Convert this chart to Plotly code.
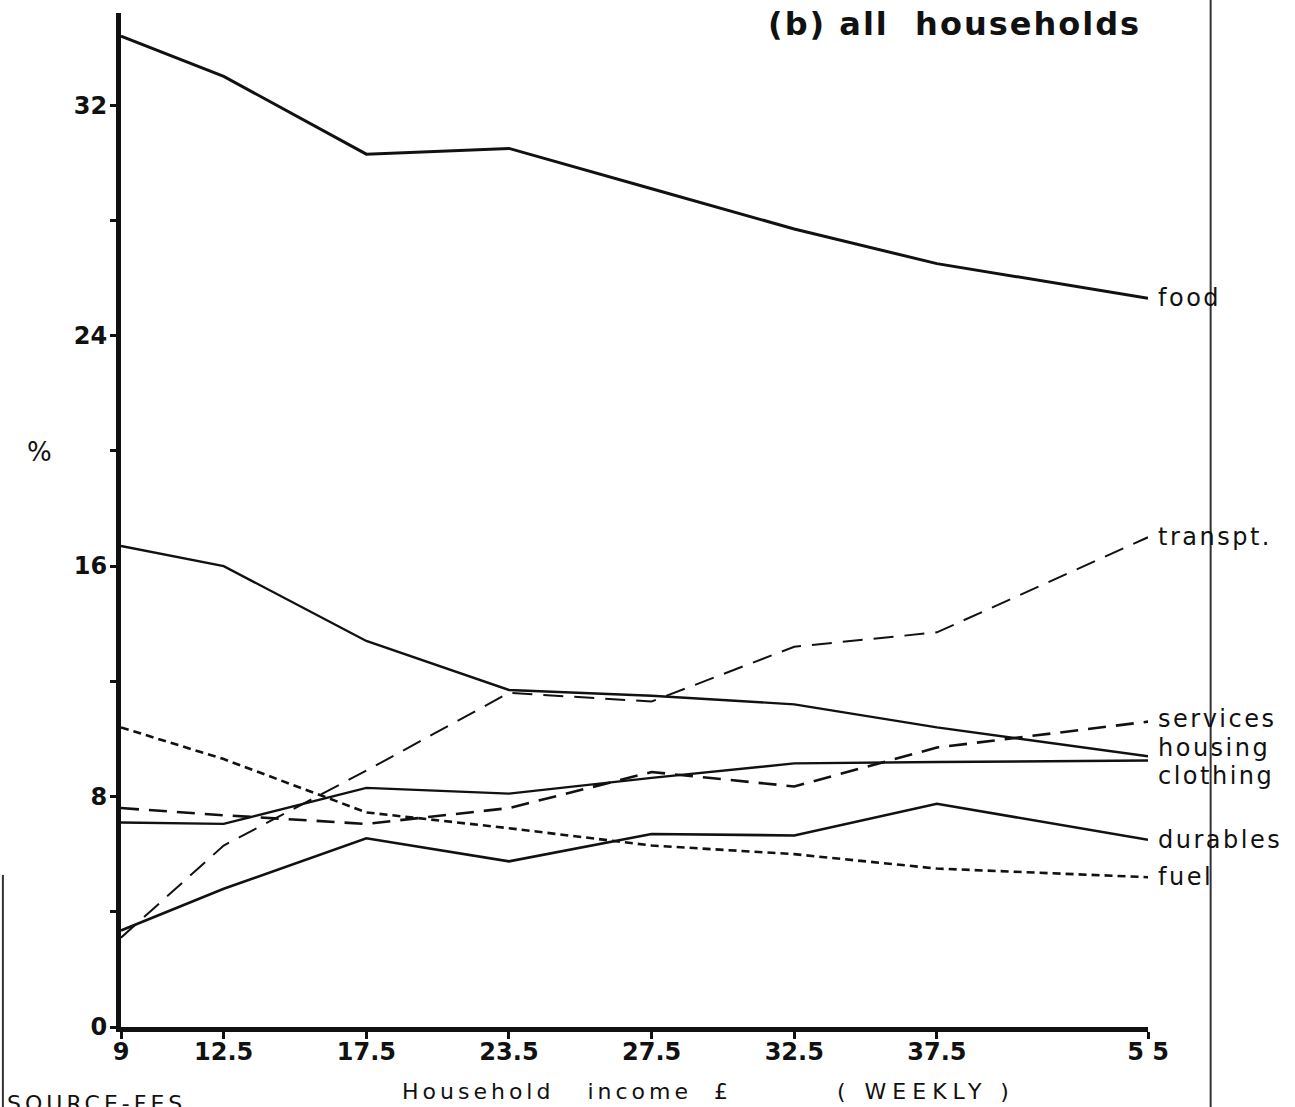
import plotly.graph_objects as go

# Income bands (weekly household income, £) and their positions along the drawn axis
income_labels = ["9", "12.5", "17.5", "23.5", "27.5", "32.5", "37.5", "5 5"]
axis_pos = [0, 0.72, 1.72, 2.72, 3.72, 4.72, 5.72, 7.2]

# Share of expenditure (%)
food      = [34.4, 33.0, 30.3, 30.5, 29.1, 27.7, 26.5, 25.3]
housing   = [16.7, 16.0, 13.4, 11.7, 11.5, 11.2, 10.4, 9.4]
clothing  = [7.1, 7.05, 8.3, 8.1, 8.65, 9.15, 9.2, 9.25]
durables  = [3.35, 4.8, 6.55, 5.75, 6.7, 6.65, 7.75, 6.5]
transport = [3.1, 6.3, 8.9, 11.6, 11.3, 13.2, 13.7, 17.0]
services  = [7.6, 7.35, 7.05, 7.6, 8.85, 8.35, 9.7, 10.6]
fuel      = [10.4, 9.3, 7.45, 6.9, 6.3, 6.0, 5.5, 5.2]

y_ticks = [0, 8, 16, 24, 32]

FONT = "DejaVu Sans"
INK = "#111111"


def spaced(txt, px):
    return f'<span style="letter-spacing:{px}px">{txt}</span>'


series = [
    ("food", food, "solid", 3.0, 0),
    ("transpt.", transport, "20px,11px", 2.0, 0),
    ("services", services, "18px,10px", 2.6, 3),
    ("housing", housing, "solid", 2.4, 8),
    ("clothing", clothing, "solid", 2.4, -15),
    ("durables", durables, "solid", 2.6, 0),
    ("fuel", fuel, "8px,5px", 2.6, 0),
]

fig = go.Figure()
for name, vals, dash, w, ysh in series:
    fig.add_trace(go.Scatter(
        x=axis_pos, y=vals, mode="lines", name=name,
        line=dict(color=INK, width=w, dash=dash),
        showlegend=False, hoverinfo="skip",
    ))
    fig.add_annotation(
        x=axis_pos[-1], y=vals[-1], xref="x", yref="y",
        text=spaced(name, 2.5), showarrow=False, xanchor="left", yanchor="middle",
        xshift=8, yshift=ysh,
        font=dict(family=FONT, size=24, color=INK),
    )

fig.update_xaxes(
    range=[0, 7.2], tickvals=axis_pos, ticktext=income_labels,
    showline=True, linecolor=INK, linewidth=5, mirror=False,
    ticks="outside", ticklen=7, tickwidth=3, tickcolor=INK,
    ticklabelstandoff=-8,
    showgrid=False, zeroline=False,
    tickfont=dict(family=FONT, size=24, color=INK, weight="bold"),
)
fig.update_yaxes(
    range=[0, 35.2], tickvals=y_ticks, ticktext=[str(v) for v in y_ticks],
    showline=True, linecolor=INK, linewidth=5,
    ticks="outside", ticklen=6, tickwidth=3, tickcolor=INK,
    ticklabelstandoff=-2,
    minor=dict(ticks="outside", dtick=4, tick0=0, ticklen=6, tickwidth=3, tickcolor=INK),
    showgrid=False, zeroline=False,
    tickfont=dict(family=FONT, size=24, color=INK, weight="bold"),
)

# Title, axis titles and source note
fig.add_annotation(xref="paper", yref="paper", x=0.628, y=0.989,
                   text=spaced("(b) all  households", 2), showarrow=False,
                   xanchor="left", yanchor="middle",
                   font=dict(family=FONT, size=32, color=INK, weight="bold"))
fig.add_annotation(xref="paper", yref="paper", x=-0.079, y=0.567,
                   text="%", showarrow=False, xanchor="center", yanchor="middle",
                   font=dict(family=FONT, size=26, color=INK))
fig.add_annotation(xref="paper", yref="paper", x=0.2717, y=-0.064,
                   text=spaced("Household   income  £", 4),
                   showarrow=False, xanchor="left", yanchor="middle",
                   font=dict(family=FONT, size=22, color=INK))
fig.add_annotation(xref="paper", yref="paper", x=0.695, y=-0.064,
                   text=spaced("( WEEKLY )", 6),
                   showarrow=False, xanchor="left", yanchor="middle",
                   font=dict(family=FONT, size=22, color=INK))
fig.add_annotation(xref="paper", yref="paper", x=-0.113, y=-0.061,
                   text=spaced("SOURCE-FES", 4), showarrow=False, xanchor="left", yanchor="top",
                   font=dict(family=FONT, size=22, color=INK))

# Scanned page edges
fig.add_shape(type="line", xref="paper", yref="paper", x0=1.061, x1=1.061,
              y0=-0.08, y1=1.013, line=dict(color="#333333", width=2))
fig.add_shape(type="line", xref="paper", yref="paper", x0=-0.115, x1=-0.115,
              y0=0.15, y1=-0.08, line=dict(color="#333333", width=2))

fig.update_layout(
    width=1295, height=1107,
    margin=dict(l=121, r=147, t=13, b=80),
    paper_bgcolor="white", plot_bgcolor="white",
    font=dict(family=FONT, color=INK),
)

fig.write_html("out.html", config={"displayModeBar": False},
               post_script="document.body.style.margin='0px';")
